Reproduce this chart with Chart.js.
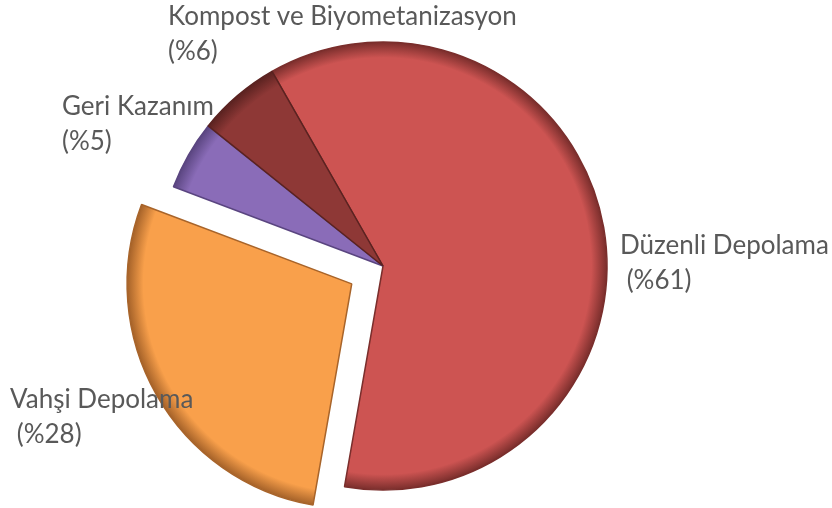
<!DOCTYPE html>
<html>
<head>
<meta charset="utf-8">
<script src="https://cdn.jsdelivr.net/npm/chart.js@4"></script>
<style>
  html, body { margin: 0; padding: 0; background: #fff; }
  #wrap { width: 832px; height: 508px; }
</style>
</head>
<body>
<div id="wrap"><canvas id="pieChart" width="832" height="508"></canvas></div>
<script>
// veriler
const categories = ['Düzenli Depolama', 'Vahşi Depolama', 'Geri Kazanım', 'Kompost ve Biyometanizasyon'];
const shares = [61, 28, 5, 6];
const labelLines = [
    ['Düzenli Depolama', ' (%61)'],
    ['Vahşi Depolama', ' (%28)'],
    ['Geri Kazanım', '(%5)'],
    ['Kompost ve Biyometanizasyon', '(%6)']
];
const sliceColors = ['#cd5452', '#f9a04b', '#8a6cb8', '#8e3836'];
const edgeColors = ['#7a2e2c', '#a8642a', '#5a4580', '#5a2220'];
const PIE_R = 224;

// kenara doğru koyulaşan dolgu (Excel'deki kabartma gibi)
function sliceFill(c) {
    const chart = c.chart;
    const area = chart.chartArea;
    if (!area) return sliceColors[c.dataIndex];
    const cx = (area.left + area.right) / 2;
    const cy = (area.top + area.bottom) / 2;
    const g = chart.ctx.createRadialGradient(cx, cy, 0, cx, cy, PIE_R);
    g.addColorStop(0, sliceColors[c.dataIndex]);
    g.addColorStop(0.93, sliceColors[c.dataIndex]);
    g.addColorStop(1, edgeColors[c.dataIndex]);
    return g;
}

// etiketlerin yeri: merkezden yarıçap katı olarak (sol kenar, ilk satır ortası)
const labelPlugin = {
    id: 'outerLabels',
    afterDatasetsDraw(chart, args, opts) {
        const ctx = chart.ctx;
        const arc0 = chart.getDatasetMeta(0).data[0];
        const cx = arc0.x, cy = arc0.y, r = arc0.outerRadius;
        ctx.save();
        ctx.font = opts.font;
        ctx.fillStyle = opts.color;
        ctx.textAlign = 'left';
        ctx.textBaseline = 'middle';
        labelLines.forEach((lines, i) => {
            const p = opts.anchors[i];
            const x = cx + r * p[0];
            const y = cy + r * p[1];
            lines.forEach((t, j) => ctx.fillText(t, x, y + j * opts.lineHeight));
        });
        ctx.restore();
    }
};

const ctxPie = document.getElementById('pieChart').getContext('2d');
const pieChart = new Chart(ctxPie, {
    type: 'pie',
    data: {
        labels: categories,
        datasets: [{
            data: shares,
            backgroundColor: sliceFill,
            borderColor: edgeColors,
            borderWidth: 1.5,
            offset: [0, 144, 0, 0], // chart.js çizimde 1/4'ünü kullanıyor
            radius: PIE_R
        }]
    },
    options: {
        responsive: false,
        animation: false,
        rotation: -29.7,
        layout: { padding: { left: 0, right: 66, top: 24, bottom: 0 } },
        plugins: {
            legend: { display: false },
            tooltip: { enabled: false },
            outerLabels: {
                font: '26px Lato',
                color: '#595959',
                lineHeight: 35,
                anchors: [
                    [1.058, -0.089],
                    [-1.665, 0.598],
                    [-1.433, -0.710],
                    [-0.960, -1.112]
                ]
            }
        }
    },
    plugins: [labelPlugin]
});
</script>
</body>
</html>
